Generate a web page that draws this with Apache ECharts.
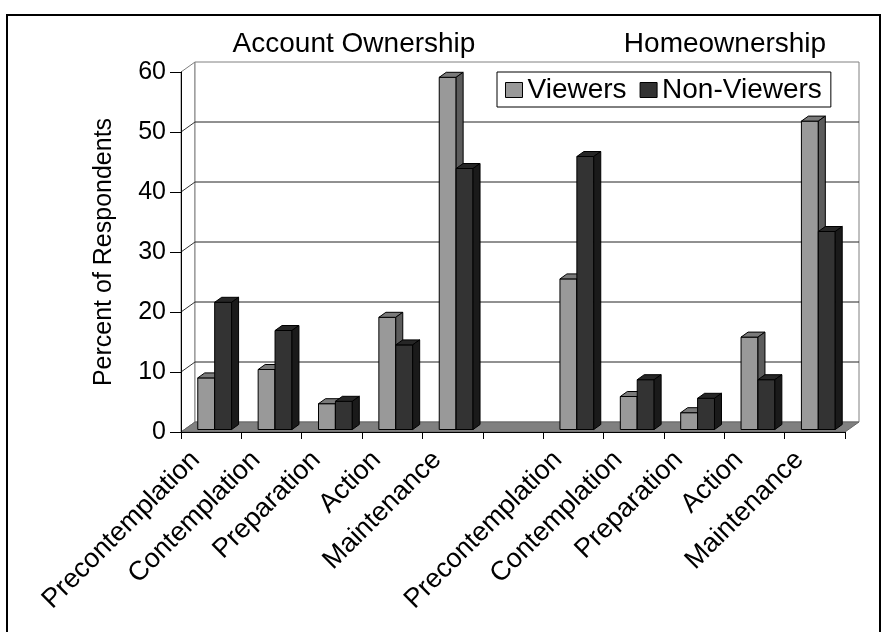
<!DOCTYPE html>
<html>
<head>
<meta charset="utf-8">
<script src="https://cdn.jsdelivr.net/npm/echarts@6/dist/echarts.min.js"></script>
<style>
  html, body { margin: 0; padding: 0; background: #fff; }
  #chart { width: 884px; height: 632px; }
</style>
</head>
<body>
<div id="chart"></div>
<script>
var categories = ['Precontemplation', 'Contemplation', 'Preparation', 'Action', 'Maintenance', '',
    'Precontemplation', 'Contemplation', 'Preparation', 'Action', 'Maintenance'];
var viewers = [8.6, 10.0, 4.3, 18.7, 58.7, null, 25.1, 5.5, 2.8, 15.4, 51.4];
var nonViewers = [21.2, 16.5, 4.7, 14.1, 43.5, null, 45.5, 8.3, 5.2, 8.3, 33.0];
var yTicks = [0, 10, 20, 30, 40, 50, 60];
var groupTitles = ['Account Ownership', 'Homeownership'];

// 3d depth of the plot box (px)
var DX = 14, DY = -10;
var FONT = '"Liberation Sans", Arial, sans-serif';

function toData(arr) {
    var out = [];
    for (var i = 0; i < arr.length; i++) {
        out.push([i, arr[i] == null ? '-' : arr[i]]);
    }
    return out;
}

function barRenderer(which, front, top, side) {
    return function (params, api) {
        var val = api.value(1);
        if (val === '-' || val == null || isNaN(val)) return;
        var idx = api.value(0);
        var pTop = api.coord([idx, val]);
        var pBase = api.coord([idx, 0]);
        var band = api.size([1, 0])[0];
        var w = band * 0.28;
        var fx = pBase[0] + DX * 0.25 - (which === 0 ? w : 0);
        var yT = pTop[1] + DY * 0.25;
        var yB = pBase[1] + DY * 0.25;
        var bx = DX * 0.5, by = DY * 0.5;
        return {
            type: 'group',
            children: [
                { type: 'rect', shape: { x: fx, y: yT, width: w, height: yB - yT },
                  style: { fill: front, stroke: '#000', lineWidth: 1 } },
                { type: 'polygon', shape: { points: [[fx, yT], [fx + w, yT], [fx + w + bx, yT + by], [fx + bx, yT + by]] },
                  style: { fill: top, stroke: '#000', lineWidth: 1 } },
                { type: 'polygon', shape: { points: [[fx + w, yT], [fx + w + bx, yT + by], [fx + w + bx, yB + by], [fx + w, yB]] },
                  style: { fill: side, stroke: '#000', lineWidth: 1 } }
            ]
        };
    };
}

function wallRenderer(params, api) {
    var cs = params.coordSys;
    var x = cs.x, y = cs.y, w = cs.width, h = cs.height;
    var kids = [];
    // left wall
    kids.push({ type: 'polygon', shape: { points: [[x, y + h], [x, y], [x + DX, y + DY], [x + DX, y + h + DY]] },
        style: { fill: '#fff', stroke: '#808080', lineWidth: 1 } });
    // back wall
    kids.push({ type: 'rect', shape: { x: x + DX, y: y + DY, width: w, height: h },
        style: { fill: '#fff', stroke: '#808080', lineWidth: 1 } });
    for (var i = 1; i < yTicks.length - 1; i++) {
        var yv = api.coord([0, yTicks[i]])[1];
        kids.push({ type: 'line', shape: { x1: x + DX, y1: yv + DY, x2: x + w + DX, y2: yv + DY },
            style: { stroke: '#222', lineWidth: 1 } });
        kids.push({ type: 'line', shape: { x1: x, y1: yv, x2: x + DX, y2: yv + DY },
            style: { stroke: '#333', lineWidth: 1 } });
    }
    // floor
    kids.push({ type: 'polygon', shape: { points: [[x, y + h], [x + w, y + h], [x + w + DX, y + h + DY], [x + DX, y + h + DY]] },
        style: { fill: '#808080', stroke: '#666', lineWidth: 1 } });
    return { type: 'group', children: kids };
}

var chart = echarts.init(document.getElementById('chart'));
var option = {
    backgroundColor: '#fff',
    animation: false,
    textStyle: { fontFamily: FONT },
    grid: { left: 181, right: 39, top: 72, bottom: 200 },
    legend: {
        data: ['Viewers', 'Non-Viewers'],
        left: 497, top: 72,
        padding: [4, 9, 3, 8],
        itemGap: 13,
        itemWidth: 17, itemHeight: 15,
        icon: 'rect',
        itemStyle: { borderColor: '#000', borderWidth: 1 },
        borderColor: '#000', borderWidth: 1,
        backgroundColor: '#fff',
        textStyle: { fontSize: 28, color: '#000', fontFamily: FONT, lineHeight: 28 }
    },
    graphic: [
        { type: 'rect', shape: { x: 7, y: 15, width: 873, height: 640 },
          style: { fill: 'none', stroke: '#000', lineWidth: 2 }, z: 10 },
        { type: 'text', x: 354, y: 44, style: { text: groupTitles[0], font: '28px ' + FONT, fill: '#000',
          textAlign: 'center', textVerticalAlign: 'middle' } },
        { type: 'text', x: 725, y: 44, style: { text: groupTitles[1], font: '28px ' + FONT, fill: '#000',
          textAlign: 'center', textVerticalAlign: 'middle' } }
    ],
    xAxis: {
        type: 'category',
        data: categories,
        z: 5,
        axisLine: { lineStyle: { color: '#000', width: 1 } },
        axisTick: { show: true, length: 7, lineStyle: { color: '#000' } },
        axisLabel: { rotate: 45, interval: 0, fontSize: 27, color: '#000', margin: 8,
            padding: [0, 22, 10, 0] }
    },
    yAxis: {
        type: 'value',
        min: 0, max: 60, interval: 10,
        z: 5,
        name: 'Percent of Respondents',
        nameLocation: 'middle',
        nameGap: 64,
        nameTextStyle: { fontSize: 25, color: '#000' },
        axisLine: { show: true, lineStyle: { color: '#000', width: 1 } },
        axisTick: { show: true, length: 11, lineStyle: { color: '#000' } },
        axisLabel: { fontSize: 25, color: '#000', margin: 15 },
        splitLine: { show: false }
    },
    series: [
        { name: 'walls', type: 'custom', z: 1, silent: true,
          renderItem: wallRenderer, data: [[0, 0]] },
        { name: 'Viewers', type: 'custom', z: 2,
          itemStyle: { color: '#999999' },
          renderItem: barRenderer(0, '#999999', '#7a7a7a', '#5c5c5c'),
          data: toData(viewers) },
        { name: 'Non-Viewers', type: 'custom', z: 3,
          itemStyle: { color: '#333333' },
          renderItem: barRenderer(1, '#333333', '#262626', '#1a1a1a'),
          data: toData(nonViewers) }
    ]
};
chart.setOption(option);
</script>
</body>
</html>
